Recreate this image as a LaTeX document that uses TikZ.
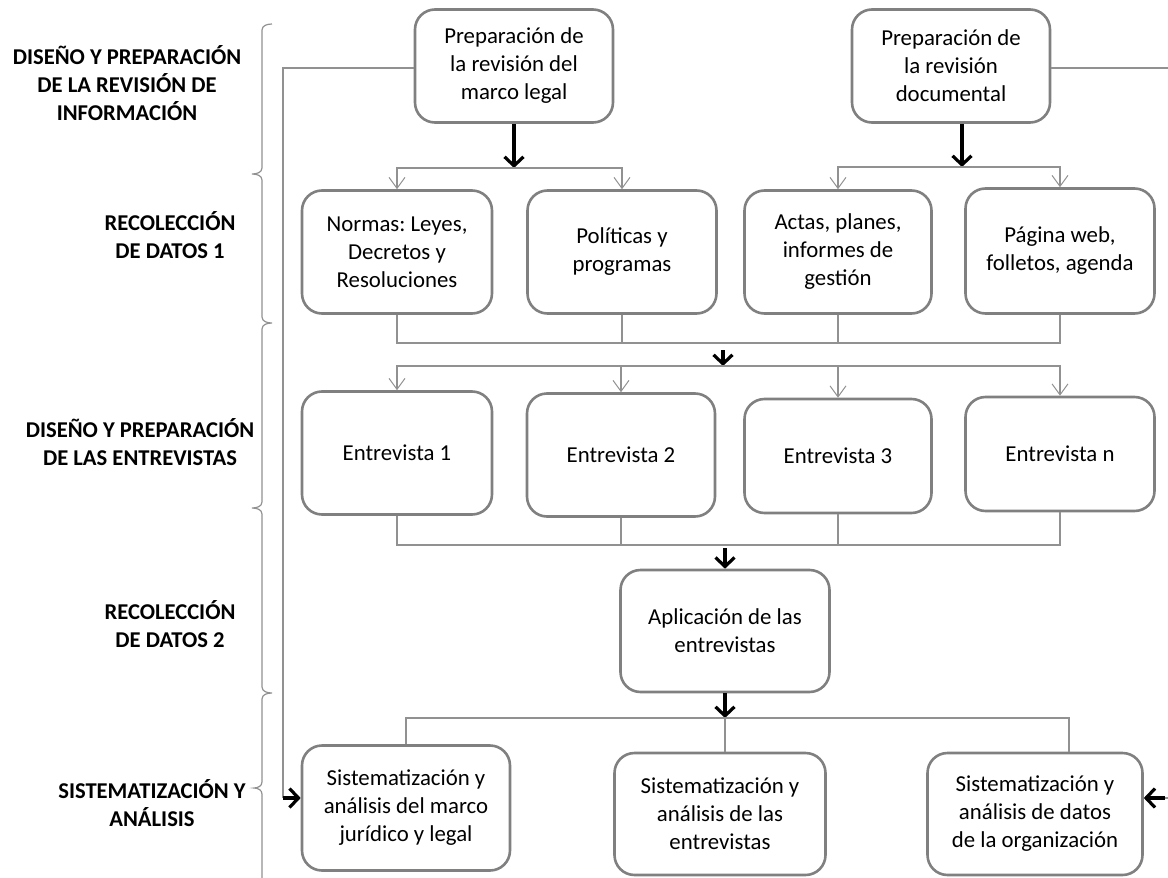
\documentclass[tikz,border=0pt]{standalone}
\usepackage{fontspec}
\setmainfont{Carlito}
\usetikzlibrary{arrows.meta, positioning}
\frenchspacing

\definecolor{boxgray}{RGB}{128,128,128}
\definecolor{linegray}{RGB}{145,145,145}

\begin{document}
\begin{tikzpicture}[
        x=0.5pt, y=-0.5pt,
        every node/.style={font=\fontsize{11.4pt}{14pt}\selectfont, align=center},
        box/.style={draw=boxgray, line width=1.3pt, rounded corners=10pt, fill=white, inner sep=2pt},
        thinline/.style={draw=linegray, line width=0.6pt},
        thinarrow/.style={thinline, -{Straight Barb[length=5.5pt, width=8pt, line width=0.5pt]}},
        bigarrow/.style={draw=black, line width=1.6pt, -{Straight Barb[length=4.5pt, width=9.5pt, line width=1.6pt]}},
        sectionlabel/.style={font=\fontsize{11.3pt}{14pt}\selectfont\bfseries}
    ]
        \useasboundingbox (0,0) rectangle (1168,878);

        % --- Section labels and brace ---
        \node[sectionlabel] (lab1) at (127,83) {DISEÑO Y PREPARACIÓN\\DE LA REVISIÓN DE\\INFORMACIÓN};
        \node[sectionlabel] (lab2) at (170,235) {RECOLECCIÓN\\DE DATOS 1};
        \node[sectionlabel] (lab3) at (140,442) {DISEÑO Y PREPARACIÓN\\DE LAS ENTREVISTAS};
        \node[sectionlabel] (lab4) at (170,624) {RECOLECCIÓN\\DE DATOS 2};
        \node[sectionlabel] (lab5) at (152,803) {SISTEMATIZACIÓN Y\\ANÁLISIS};

        \draw[thinline] (272,24) to[out=180,in=90] (262,30) -- (262,168) to[out=-90,in=0] (252,174)
            to[out=0,in=90] (262,180) -- (262,317) to[out=-90,in=180] (272,323)
            to[out=180,in=90] (262,329) -- (262,502) to[out=-90,in=0] (252,508)
            to[out=0,in=90] (262,514) -- (262,687) to[out=-90,in=180] (272,693)
            to[out=180,in=90] (262,699) -- (262,782) to[out=-90,in=0] (254,788)
            to[out=0,in=90] (262,794) -- (262,890);

        % --- Boxes ---
        \node[box, minimum width=99pt, minimum height=56.5pt] (prepLegal) at (514,66) {Preparación de\\la revisión del\\marco legal};
        \node[box, minimum width=99pt, minimum height=56.5pt] (prepDoc) at (951,66) {Preparación de\\la revisión\\documental};

        \node[box, minimum width=95pt, minimum height=61.5pt] (normas) at (397,252) {Normas: Leyes,\\Decretos y\\Resoluciones};
        \node[box, minimum width=94.5pt, minimum height=61.5pt] (politicas) at (622,252) {Políticas y\\programas};
        \node[box, minimum width=93.5pt, minimum height=61.5pt] (actas) at (838,252) {Actas, planes,\\informes de\\gestión};
        \node[box, minimum width=94.5pt, minimum height=62.5pt] (pagina) at (1060,251) {Página web,\\folletos, agenda};

        \node[box, minimum width=95pt, minimum height=61.5pt] (entrev1) at (397,453) {Entrevista 1};
        \node[box, minimum width=94pt, minimum height=61.5pt] (entrev2) at (621,455) {Entrevista 2};
        \node[box, minimum width=93.5pt, minimum height=57pt] (entrev3) at (838,456) {Entrevista 3};
        \node[box, minimum width=94.5pt, minimum height=57pt] (entrevN) at (1060,454) {Entrevista n};

        \node[box, minimum width=104.5pt, minimum height=61pt] (aplicacion) at (725,631) {Aplicación de las\\entrevistas};

        \node[box, minimum width=104pt, minimum height=62.5pt] (sistLegal) at (406,808) {Sistematización y\\análisis del marco\\jurídico y legal};
        \node[box, minimum width=105.5pt, minimum height=61pt] (sistEntrev) at (720,814) {Sistematización y\\análisis de las\\entrevistas};
        \node[box, minimum width=107.5pt, minimum height=61pt] (sistOrg) at (1035,814) {Sistematización y\\análisis de datos\\de la organización};

        % --- Junction points ---
        \coordinate (splitLegal) at (514,168);
        \coordinate (splitDoc) at (962,167);
        \coordinate (joinDatos) at (723,343);
        \coordinate (splitEntrev) at (723,366);
        \coordinate (joinEntrev) at (725,545);
        \coordinate (splitSist) at (725,718);
        \coordinate (cornerLeft) at (283,798);
        \coordinate (cornerRight) at (1190,798);

        % --- First split ---
        \draw[bigarrow] (prepLegal.south) -- (splitLegal);
        \draw[thinarrow] (splitLegal) -| (normas.north);
        \draw[thinarrow] (splitLegal) -| (politicas.north);
        \draw[bigarrow] ([xshift=5.5pt]prepDoc.south) -- (splitDoc);
        \draw[thinarrow] (splitDoc) -| (actas.north);
        \draw[thinarrow] (splitDoc) -| (pagina.north);

        % --- Join of the documents, split to the interviews ---
        \draw[thinline] (normas.south) |- (joinDatos) -| (pagina.south);
        \draw[thinline] (politicas.south) -- (politicas.south |- joinDatos);
        \draw[thinline] (actas.south) -- (actas.south |- joinDatos);
        \draw[bigarrow] ([yshift=-3.5pt]joinDatos) -- (splitEntrev);
        \draw[thinarrow] (splitEntrev) -| (entrev1.north);
        \draw[thinarrow] (splitEntrev) -| (entrev2.north);
        \draw[thinarrow] (splitEntrev) -| (entrev3.north);
        \draw[thinarrow] (splitEntrev) -| (entrevN.north);

        % --- Join of the interviews ---
        \draw[thinline] (entrev1.south) |- (joinEntrev) -| (entrevN.south);
        \draw[thinline] (entrev2.south) -- (entrev2.south |- joinEntrev);
        \draw[thinline] (entrev3.south) -- (entrev3.south |- joinEntrev);
        \draw[bigarrow] ([yshift=-1.5pt]joinEntrev) -- (aplicacion.north);

        % --- Last split ---
        \draw[bigarrow] (aplicacion.south) -- (splitSist);
        \draw[thinline] (splitSist) -| (sistLegal.north);
        \draw[thinline] (splitSist) -| ([xshift=2.5pt]sistEntrev.north);
        \draw[thinline] (splitSist) -| ([xshift=17pt]sistOrg.north);

        % --- Side connectors ---
        \draw[thinline] ([yshift=-1pt]prepLegal.west) -| (cornerLeft);
        \draw[bigarrow] (cornerLeft) -- ([yshift=5pt]sistLegal.west);
        \draw[thinline] ([yshift=-1pt]prepDoc.east) -| (cornerRight);
        \draw[thinline] (cornerRight) -- (1165,798);
        \draw[bigarrow] (1165,798) -- ([yshift=8pt]sistOrg.east);

    \end{tikzpicture}
\end{document}
